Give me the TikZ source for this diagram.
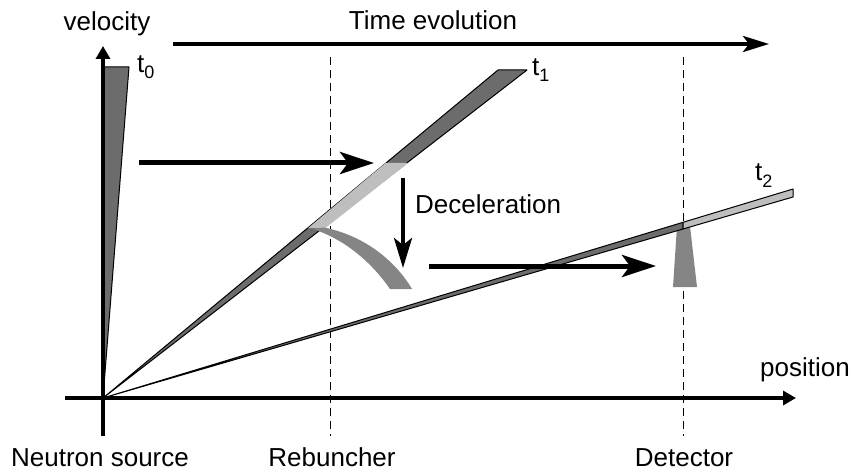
\documentclass[tikz,border=0pt]{standalone}
\usepackage{fontspec}
\setmainfont{Liberation Sans}
\usetikzlibrary{arrows.meta}
\definecolor{darkband}{HTML}{6C6C6C}
\definecolor{lightband}{HTML}{BEBEBE}
\definecolor{midgray}{HTML}{858585}
\tikzset{
  lbl/.style={font=\fontsize{26}{30}\selectfont, inner sep=0pt, anchor=base},
  tlbl/.style={font=\fontsize{26}{30}\selectfont, inner sep=0pt, anchor=base west},
  axisline/.style={line width=3.5pt, -{Triangle[length=13pt,width=14pt]}},
  bigarrow/.style={line width=5pt, -{Stealth[length=34pt,width=22pt,inset=8pt]}},
  timearrow/.style={line width=4pt, -{Stealth[length=26pt,width=16pt,inset=6pt]}},
  downarrow/.style={line width=4pt, -{Stealth[length=30pt,width=18pt,inset=7pt]}},
  guide/.style={line width=0.9pt, dash pattern=on 8pt off 5pt},
  band/.style={draw=black, line width=1pt, line join=round},
}
\newcommand{\sub}[1]{\raisebox{-6pt}{\fontsize{18}{20}\selectfont #1}}
\begin{document}
\begin{tikzpicture}[x=1pt,y=-1pt]
\useasboundingbox (0,0) rectangle (853,473);
% key coordinates
\coordinate (O) at (103,398);
\coordinate (rebTop) at (330,57);
\coordinate (rebBot) at (330,436);
\coordinate (detTop) at (683,57);
\coordinate (detBot) at (683,436);
% guide lines
\draw[guide] (rebTop) -- (rebBot);
\draw[guide] (detTop) -- (detBot);
% t0 wedge
\filldraw[band, fill=darkband] (O) -- (103,67) -- (129,67) -- cycle;
% t1 wedge
\filldraw[band, fill=darkband] (O) -- (498,70) -- (527,70) -- cycle;
\fill[lightband] (308,228.2) -- (385.6,163) -- (408,163) -- (325.2,228.2) -- cycle;
% decelerated arc
\fill[midgray] (324,227.5) .. controls (366,236) and (396,262) .. (412,289)
  -- (390,289) .. controls (372,263) and (346,240) .. (313,229) -- cycle;
% detector trapezoid
\fill[midgray] (677,226) -- (690,226) -- (697,287) -- (673,287) -- cycle;
% t2 band
\filldraw[band, fill=darkband] (O) -- (683,222.3) -- (683,229) -- cycle;
\filldraw[band, fill=lightband] (683,222.3) -- (793,189) -- (793,197) -- (683,229) -- cycle;
% axes
\coordinate (xs) at (65,398);
\coordinate (xe) at (796,398);
\coordinate (ys) at (103,436);
\coordinate (ye) at (103,46);
\draw[axisline] (xs) -- (xe);
\draw[axisline] (ys) -- (ye);
% arrows
\coordinate (ta) at (173,44);
\coordinate (tb) at (769,44);
\draw[timearrow] (ta) -- (tb);
\coordinate (a1s) at (139,163);
\coordinate (a1e) at (374,163);
\draw[bigarrow] (a1s) -- (a1e);
\coordinate (ds) at (403,178);
\coordinate (de) at (403,268);
\draw[downarrow] (ds) -- (de);
\coordinate (a2s) at (429,266);
\coordinate (a2e) at (656,266);
\draw[bigarrow] (a2s) -- (a2e);
% labels
\node[lbl] (velocity) at (107,31) {velocity};
\node[lbl] (time) at (433,30) {Time evolution};
\node[lbl] (position) at (805,376) {position};
\node[tlbl] (decel) at (415,213) {Deceleration};
\node[lbl] (source) at (100,466) {Neutron source};
\node[lbl] (rebuncher) at (332,466) {Rebuncher};
\node[lbl] (detector) at (684,466) {Detector};
\node[tlbl] (t0) at (137,73) {t\sub{0}};
\node[tlbl] (t1) at (532,76) {t\sub{1}};
\node[tlbl] (t2) at (755,181) {t\sub{2}};
\end{tikzpicture}
\end{document}
